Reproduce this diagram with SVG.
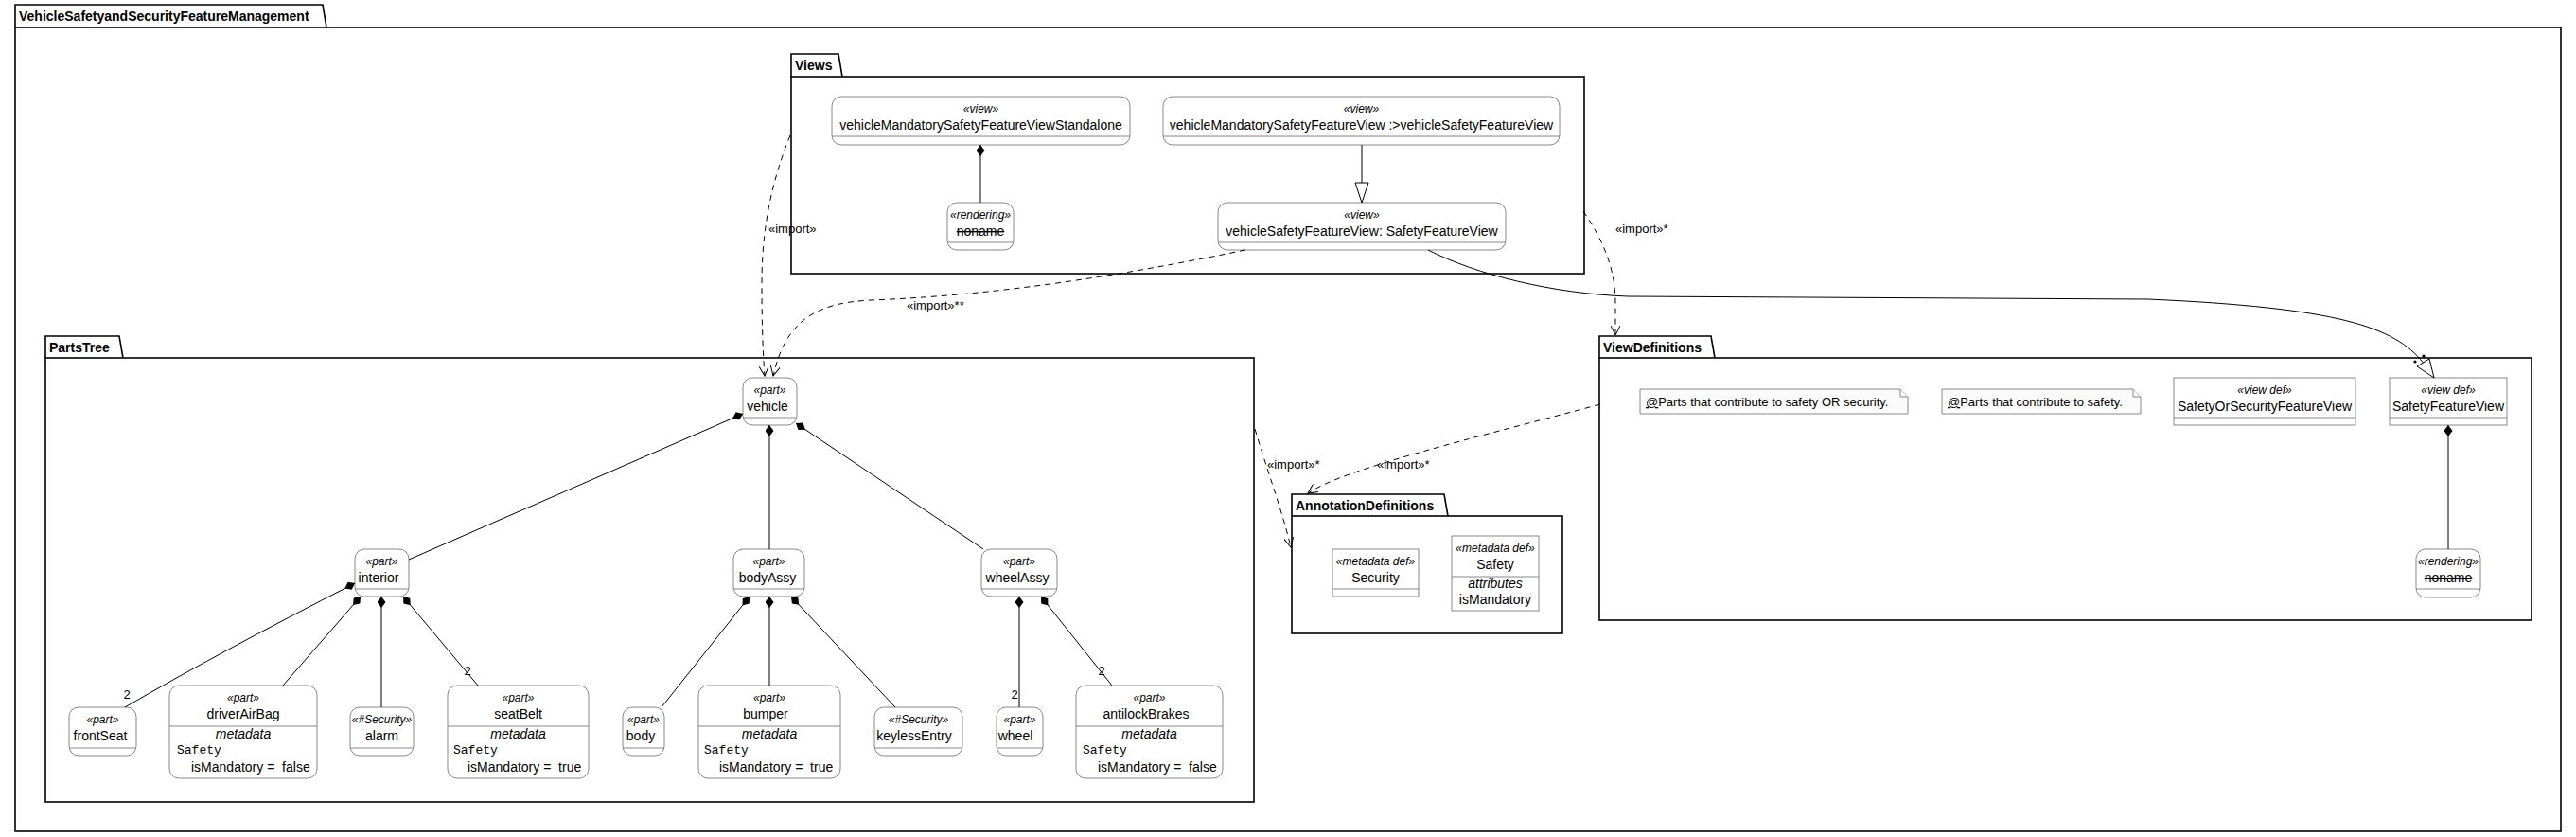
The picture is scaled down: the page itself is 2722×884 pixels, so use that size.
<svg xmlns="http://www.w3.org/2000/svg" width="2722" height="884" viewBox="0 0 2722 884">
<style>
text{font-family:"Liberation Sans",Arial,sans-serif;fill:#000}
.pkg{fill:none;stroke:#000;stroke-width:1.6}
.pt{font-size:14px;font-weight:bold}
.n{fill:#fff;stroke:#888;stroke-width:1}
.d{stroke:#888;stroke-width:1}
.st{font-size:12px;font-style:italic;text-anchor:middle}
.nm{font-size:14px;text-anchor:middle}
.it{font-size:14px;font-style:italic;text-anchor:middle}
.mono{font-family:"Liberation Mono","Courier New",monospace;font-size:13px}
.tx{font-size:14px}
.lbl{font-size:13px}
.e{fill:none;stroke:#000;stroke-width:1}
.dash{stroke-dasharray:6 5}
.note{fill:#fbfbfb;stroke:#888;stroke-width:1}
.strike{text-decoration:line-through}
</style>
<defs>
<marker id="dia" viewBox="0 0 12 9" refX="0" refY="4.5" markerWidth="12" markerHeight="9" markerUnits="userSpaceOnUse" orient="auto">
<path d="M0,4.5 L6,0 L12,4.5 L6,9 Z" fill="#000"/>
</marker>
<marker id="arr" viewBox="0 0 11 10" refX="10" refY="5" markerWidth="11" markerHeight="10" markerUnits="userSpaceOnUse" orient="auto">
<path d="M0,0 L10,5 L0,10" fill="none" stroke="#000" stroke-width="1"/>
</marker>
</defs>
<rect width="2722" height="884" fill="#fff"/>

<g id="pkg-VehicleSafetyandSecurityFeatureManagement">
<path class="pkg" d="M16 29 L16 5 L341 5 L345 29"/>
<rect class="pkg" x="16" y="29" width="2690" height="849"/>
<text class="pt" x="20" y="22">VehicleSafetyandSecurityFeatureManagement</text>
</g>
<g id="pkg-Views">
<path class="pkg" d="M836 81 L836 57 L886 57 L890 81"/>
<rect class="pkg" x="836" y="81" width="838" height="208"/>
<text class="pt" x="840" y="74">Views</text>
</g>
<g id="pkg-PartsTree">
<path class="pkg" d="M48 378 L48 355 L126 355 L130 378"/>
<rect class="pkg" x="48" y="378" width="1277" height="469"/>
<text class="pt" x="52" y="372">PartsTree</text>
</g>
<g id="pkg-ViewDefinitions">
<path class="pkg" d="M1690 378 L1690 355 L1808 355 L1812 378"/>
<rect class="pkg" x="1690" y="378" width="985" height="277"/>
<text class="pt" x="1694" y="372">ViewDefinitions</text>
</g>
<g id="pkg-AnnotationDefinitions">
<path class="pkg" d="M1365 545 L1365 522 L1526 522 L1530 545"/>
<rect class="pkg" x="1365" y="545" width="286" height="124"/>
<text class="pt" x="1369" y="539">AnnotationDefinitions</text>
</g>

<!-- Views nodes -->
<g id="vehicleMandatorySafetyFeatureViewStandalone">
<rect class="n" x="879" y="102" width="315" height="51" rx="10"/>
<line class="d" x1="879" y1="144" x2="1194" y2="144"/>
<text class="st" x="1036.5" y="119">«view»</text>
<text class="nm" x="1036.5" y="137">vehicleMandatorySafetyFeatureViewStandalone</text>
</g>
<g id="vehicleMandatorySafetyFeatureView">
<rect class="n" x="1229" y="102" width="419" height="51" rx="10"/>
<line class="d" x1="1229" y1="144" x2="1648" y2="144"/>
<text class="st" x="1438.5" y="119">«view»</text>
<text class="nm" x="1438.5" y="137">vehicleMandatorySafetyFeatureView :&gt;vehicleSafetyFeatureView</text>
</g>
<g id="rendering-views">
<rect class="n" x="1001" y="214" width="70" height="50" rx="10"/>
<line class="d" x1="1001" y1="256" x2="1071" y2="256"/>
<text class="st" x="1036" y="231">«rendering»</text>
<text class="nm strike" x="1036" y="249">noname</text>
</g>
<g id="vehicleSafetyFeatureView">
<rect class="n" x="1287" y="214" width="304" height="50" rx="10"/>
<line class="d" x1="1287" y1="256" x2="1591" y2="256"/>
<text class="st" x="1439" y="231">«view»</text>
<text class="nm" x="1439" y="249">vehicleSafetyFeatureView: SafetyFeatureView</text>
</g>

<!-- ViewDefinitions nodes -->
<g id="note-safety-or-security">
<path class="note" d="M1733 411 L2008 411 L2016 419 L2016 437 L1733 437 Z"/>
<path class="note" d="M2008 411 L2008 419 L2016 419"/>
<text class="lbl" x="1739" y="429"><tspan text-decoration="underline">@</tspan>Parts that contribute to safety OR security.</text>
</g>
<g id="note-safety">
<path class="note" d="M2052 411 L2254 411 L2262 419 L2262 437 L2052 437 Z"/>
<path class="note" d="M2254 411 L2254 419 L2262 419"/>
<text class="lbl" x="2058" y="429"><tspan text-decoration="underline">@</tspan>Parts that contribute to safety.</text>
</g>
<g id="SafetyOrSecurityFeatureView">
<rect class="n" x="2297" y="399" width="192" height="50"/>
<line class="d" x1="2297" y1="441" x2="2489" y2="441"/>
<text class="st" x="2393" y="416">«view def»</text>
<text class="nm" x="2393" y="434">SafetyOrSecurityFeatureView</text>
</g>
<g id="SafetyFeatureView">
<rect class="n" x="2525" y="399" width="124" height="50"/>
<line class="d" x1="2525" y1="441" x2="2649" y2="441"/>
<text class="st" x="2587" y="416">«view def»</text>
<text class="nm" x="2587" y="434">SafetyFeatureView</text>
</g>
<g id="rendering-viewdefs">
<rect class="n" x="2553" y="580" width="68" height="51" rx="10"/>
<line class="d" x1="2553" y1="622" x2="2621" y2="622"/>
<text class="st" x="2587" y="597">«rendering»</text>
<text class="nm strike" x="2587" y="615">noname</text>
</g>

<!-- AnnotationDefinitions nodes -->
<g id="Security">
<rect class="n" x="1408" y="580" width="91" height="50"/>
<line class="d" x1="1408" y1="622" x2="1499" y2="622"/>
<text class="st" x="1453.5" y="597">«metadata def»</text>
<text class="nm" x="1453.5" y="615">Security</text>
</g>
<g id="Safety">
<rect class="n" x="1534" y="566" width="92" height="79"/>
<line class="d" x1="1534" y1="609" x2="1626" y2="609"/>
<text class="st" x="1580" y="583">«metadata def»</text>
<text class="nm" x="1580" y="601">Safety</text>
<text class="it" x="1580" y="621">attributes</text>
<text class="nm" x="1580" y="638">isMandatory</text>
</g>

<!-- PartsTree nodes -->
<g id="vehicle">
<rect class="n" x="785" y="399" width="57" height="50" rx="10"/>
<line class="d" x1="785" y1="441" x2="842" y2="441"/>
<text class="st" x="813.5" y="416">«part»</text>
<text class="nm" x="811" y="434">vehicle</text>
</g>
<g id="interior">
<rect class="n" x="375" y="580" width="57" height="50" rx="10"/>
<line class="d" x1="375" y1="622" x2="432" y2="622"/>
<text class="st" x="403.5" y="597">«part»</text>
<text class="nm" x="400" y="615">interior</text>
</g>
<g id="bodyAssy">
<rect class="n" x="775" y="580" width="75" height="50" rx="10"/>
<line class="d" x1="775" y1="622" x2="850" y2="622"/>
<text class="st" x="812.5" y="597">«part»</text>
<text class="nm" x="811" y="615">bodyAssy</text>
</g>
<g id="wheelAssy">
<rect class="n" x="1037" y="580" width="80" height="50" rx="10"/>
<line class="d" x1="1037" y1="622" x2="1117" y2="622"/>
<text class="st" x="1077" y="597">«part»</text>
<text class="nm" x="1075" y="615">wheelAssy</text>
</g>
<g id="frontSeat">
<rect class="n" x="73" y="747" width="71" height="51" rx="10"/>
<line class="d" x1="73" y1="790" x2="144" y2="790"/>
<text class="st" x="108.5" y="764">«part»</text>
<text class="nm" x="106" y="782">frontSeat</text>
</g>
<g id="driverAirBag">
<rect class="n" x="179" y="724" width="156" height="98" rx="10"/>
<line class="d" x1="179" y1="767" x2="335" y2="767"/>
<text class="st" x="257" y="741">«part»</text>
<text class="nm" x="257" y="759">driverAirBag</text>
<text class="it" x="257" y="780">metadata</text>
<text class="mono" x="187" y="796">Safety</text>
<text class="tx" x="202" y="815" xml:space="preserve">isMandatory =  false</text>
</g>
<g id="alarm">
<rect class="n" x="370" y="747" width="67" height="51" rx="10"/>
<line class="d" x1="370" y1="790" x2="437" y2="790"/>
<text class="st" x="403.5" y="764">«#Security»</text>
<text class="nm" x="403.5" y="782">alarm</text>
</g>
<g id="seatBelt">
<rect class="n" x="473" y="724" width="149" height="98" rx="10"/>
<line class="d" x1="473" y1="767" x2="622" y2="767"/>
<text class="st" x="547.5" y="741">«part»</text>
<text class="nm" x="547.5" y="759">seatBelt</text>
<text class="it" x="547.5" y="780">metadata</text>
<text class="mono" x="479" y="796">Safety</text>
<text class="tx" x="494" y="815" xml:space="preserve">isMandatory =  true</text>
</g>
<g id="body">
<rect class="n" x="658" y="747" width="44" height="51" rx="10"/>
<line class="d" x1="658" y1="790" x2="702" y2="790"/>
<text class="st" x="680" y="764">«part»</text>
<text class="nm" x="677" y="782">body</text>
</g>
<g id="bumper">
<rect class="n" x="738" y="724" width="150" height="98" rx="10"/>
<line class="d" x1="738" y1="767" x2="888" y2="767"/>
<text class="st" x="813" y="741">«part»</text>
<text class="nm" x="809" y="759">bumper</text>
<text class="it" x="813" y="780">metadata</text>
<text class="mono" x="744" y="796">Safety</text>
<text class="tx" x="760" y="815" xml:space="preserve">isMandatory =  true</text>
</g>
<g id="keylessEntry">
<rect class="n" x="924" y="747" width="93" height="51" rx="10"/>
<line class="d" x1="924" y1="790" x2="1017" y2="790"/>
<text class="st" x="970.5" y="764">«#Security»</text>
<text class="nm" x="966" y="782">keylessEntry</text>
</g>
<g id="wheel">
<rect class="n" x="1053" y="747" width="49" height="51" rx="10"/>
<line class="d" x1="1053" y1="790" x2="1102" y2="790"/>
<text class="st" x="1077.5" y="764">«part»</text>
<text class="nm" x="1073" y="782">wheel</text>
</g>
<g id="antilockBrakes">
<rect class="n" x="1137" y="724" width="155" height="98" rx="10"/>
<line class="d" x1="1137" y1="767" x2="1292" y2="767"/>
<text class="st" x="1214.5" y="741">«part»</text>
<text class="nm" x="1211" y="759">antilockBrakes</text>
<text class="it" x="1214.5" y="780">metadata</text>
<text class="mono" x="1144" y="796">Safety</text>
<text class="tx" x="1160" y="815" xml:space="preserve">isMandatory =  false</text>
</g>

<g id="connectors">
<!-- compositions -->
<path class="e" marker-start="url(#dia)" d="M1036 153 L1036 214"/>
<path class="e" marker-start="url(#dia)" d="M2587 449 L2587 580"/>
<path class="e" marker-start="url(#dia)" d="M785 437 L432 591"/>
<path class="e" marker-start="url(#dia)" d="M813 449 L813 580"/>
<path class="e" marker-start="url(#dia)" d="M841 447 L1039 580"/>
<path class="e" marker-start="url(#dia)" d="M375 616 Q230 690 132 747"/>
<path class="e" marker-start="url(#dia)" d="M381 630 L299 724"/>
<path class="e" marker-start="url(#dia)" d="M403 630 L403 747"/>
<path class="e" marker-start="url(#dia)" d="M426 630 L505 724"/>
<path class="e" marker-start="url(#dia)" d="M792 630 L699 747"/>
<path class="e" marker-start="url(#dia)" d="M813 630 L813 724"/>
<path class="e" marker-start="url(#dia)" d="M836 630 L946 747"/>
<path class="e" marker-start="url(#dia)" d="M1077 630 L1077 747"/>
<path class="e" marker-start="url(#dia)" d="M1100 630 L1175 724"/>
<text class="lbl" x="134" y="738" text-anchor="middle">2</text>
<text class="lbl" x="494" y="713" text-anchor="middle">2</text>
<text class="lbl" x="1072" y="738" text-anchor="middle">2</text>
<text class="lbl" x="1164" y="713" text-anchor="middle">2</text>
<!-- generalizations -->
<path class="e" d="M1439 153 L1439 193"/>
<polygon points="1439,214 1432,193 1446,193" fill="#fff" stroke="#000" stroke-width="1"/>
<path class="e" d="M1509 264 C1560 290 1640 310 1720 313 L2270 316 C2470 325 2530 345 2560.5 383"/>
<polygon points="2572,399 2554,387 2567,379" fill="#fff" stroke="#000" stroke-width="1"/>
<circle cx="2552" cy="382" r="1.6" fill="#000"/>
<circle cx="2561" cy="376" r="1.6" fill="#000"/>
<!-- imports -->
<path class="e dash" marker-end="url(#arr)" d="M835 143 C812 200 805 250 805 300 C805 340 806 370 808 397"/>
<text class="lbl" x="812" y="246">«import»</text>
<path class="e dash" marker-end="url(#arr)" d="M1316 264 C1180 292 1050 312 920 317 C860 320 830 340 817 397"/>
<text class="lbl" x="958" y="327">«import»**</text>
<path class="e dash" marker-end="url(#arr)" d="M1673 223 C1695 255 1707 285 1707 320 L1707 354"/>
<text class="lbl" x="1707" y="246">«import»*</text>
<path class="e dash" marker-end="url(#arr)" d="M1691 427 C1560 462 1420 495 1382 521"/>
<text class="lbl" x="1455" y="495">«import»*</text>
<path class="e dash" marker-end="url(#arr)" d="M1326 453 C1340 500 1355 540 1364 578"/>
<text class="lbl" x="1339" y="495">«import»*</text>
</g>
</svg>
